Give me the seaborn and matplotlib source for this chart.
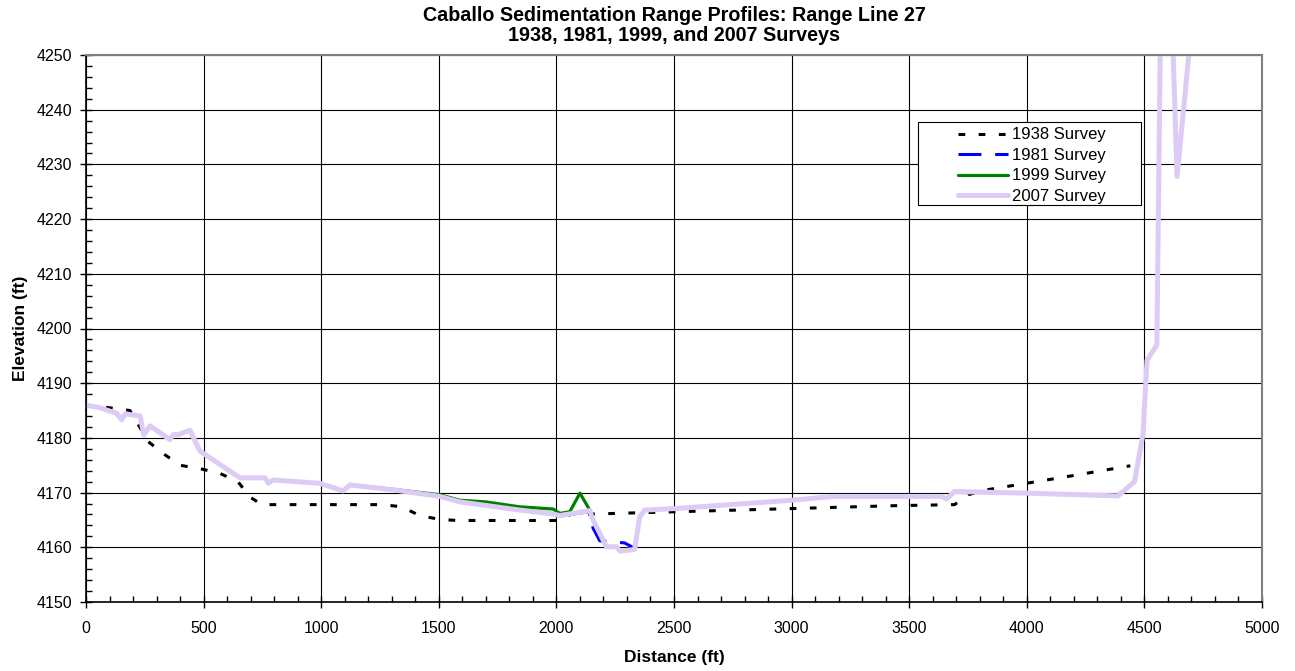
import matplotlib
matplotlib.use('Agg')
import matplotlib.pyplot as plt
from matplotlib.patches import Rectangle
from matplotlib.ticker import MultipleLocator
import seaborn as sns

# range line 27 survey profiles
dist_1938 = [0, 102, 187, 265, 336, 400, 492, 570, 646, 697, 747, 1262, 1342, 1419,
             1504, 1580, 2014, 2060, 2170, 2340, 2510, 2765, 3020, 3430, 3693, 3750,
             3828, 3998, 4168, 4440]
elev_1938 = [4186.0, 4185.5, 4185.0, 4179.3, 4176.9, 4175.0, 4174.3, 4173.5, 4172.0,
             4169.2, 4167.8, 4167.8, 4167.4, 4165.8, 4165.1, 4164.9, 4164.9, 4166.0,
             4166.1, 4166.3, 4166.5, 4166.8, 4167.1, 4167.6, 4167.8, 4169.6, 4170.5,
             4171.7, 4172.9, 4174.9]

dist_1981 = [0, 60, 130, 152, 166, 230, 246, 272, 357, 371, 392, 442, 484, 654, 761,
             775, 796, 994, 1093, 1122, 1306, 1504, 1590, 1844, 1986, 2014, 2142, 2156,
             2184, 2290, 2333, 2354, 2376, 2510, 3000, 3176, 3460, 3640, 3658, 3693,
             3998, 4387, 4458, 4494, 4511, 4553, 4575, 4600, 4639, 4700]
elev_1981 = [4186.0, 4185.5, 4184.5, 4183.3, 4184.4, 4184.0, 4180.5, 4182.2, 4179.7,
             4180.6, 4180.6, 4181.4, 4177.6, 4172.7, 4172.7, 4171.7, 4172.3, 4171.7,
             4170.3, 4171.4, 4170.5, 4169.3, 4168.3, 4166.8, 4166.1, 4165.8, 4166.5,
             4163.5, 4161.2, 4160.8, 4159.8, 4165.6, 4166.8, 4167.1, 4168.6, 4169.3,
             4169.3, 4169.3, 4168.8, 4170.2, 4169.9, 4169.4, 4172.0, 4180.7, 4194.2,
             4197.0, 4280.0, 4280.0, 4227.8, 4255.0]

dist_1999 = [0, 60, 130, 152, 166, 230, 246, 272, 357, 371, 392, 442, 484, 654, 761,
             775, 796, 994, 1093, 1122, 1306, 1504, 1590, 1700, 1844, 1986, 2014, 2057,
             2100, 2142, 2156, 2213, 2255, 2270, 2333, 2354, 2376, 2510, 3000, 3176,
             3460, 3640, 3658, 3693, 3998, 4387, 4458, 4494, 4511, 4553, 4575, 4600,
             4639, 4700]
elev_1999 = [4186.0, 4185.5, 4184.5, 4183.3, 4184.4, 4184.0, 4180.5, 4182.2, 4179.7,
             4180.6, 4180.6, 4181.4, 4177.6, 4172.7, 4172.7, 4171.7, 4172.3, 4171.7,
             4170.3, 4171.4, 4170.6, 4169.6, 4168.6, 4168.3, 4167.4, 4167.0, 4166.2,
             4166.5, 4169.9, 4166.8, 4165.0, 4160.1, 4160.1, 4159.3, 4159.6, 4165.6,
             4166.8, 4167.1, 4168.6, 4169.3, 4169.3, 4169.3, 4168.8, 4170.2, 4169.9,
             4169.4, 4172.0, 4180.7, 4194.2, 4197.0, 4280.0, 4280.0, 4227.8, 4255.0]

dist_2007 = [0, 60, 130, 152, 166, 230, 246, 272, 357, 371, 392, 442, 484, 654, 761,
             775, 796, 994, 1093, 1122, 1306, 1504, 1590, 1844, 1986, 2014, 2142, 2156,
             2213, 2255, 2270, 2333, 2354, 2376, 2510, 3000, 3176, 3460, 3640, 3658,
             3693, 3998, 4387, 4458, 4494, 4511, 4553, 4575, 4600, 4639, 4700]
elev_2007 = [4186.0, 4185.5, 4184.5, 4183.3, 4184.4, 4184.0, 4180.5, 4182.2, 4179.7,
             4180.6, 4180.6, 4181.4, 4177.6, 4172.7, 4172.7, 4171.7, 4172.3, 4171.7,
             4170.3, 4171.4, 4170.5, 4169.3, 4168.3, 4166.8, 4166.1, 4165.8, 4166.7,
             4165.0, 4160.1, 4160.1, 4159.3, 4159.6, 4165.6, 4166.8, 4167.1, 4168.6,
             4169.3, 4169.3, 4169.3, 4168.8, 4170.2, 4169.9, 4169.4, 4172.0, 4180.7,
             4194.2, 4197.0, 4280.0, 4280.0, 4227.8, 4255.0]

sns.set_style('white')
plt.rcParams['font.family'] = ['Liberation Sans', 'DejaVu Sans']
plt.rcParams['text.color'] = 'black'
plt.rcParams['axes.labelcolor'] = 'black'

fig = plt.figure(figsize=(12.95, 6.71), dpi=100)
ax = fig.add_axes([86 / 1295, 1 - 602 / 671, 1176 / 1295, 547 / 671])

sns.lineplot(x=dist_1938, y=elev_1938, ax=ax, sort=False, color='black', lw=2.2,
             linestyle=(0, (2.2, 4.4)), label='1938 Survey')
sns.lineplot(x=dist_1981, y=elev_1981, ax=ax, sort=False, color='#0000ff', lw=2.2,
             linestyle=(0, (7.5, 4.5)), label='1981 Survey')
sns.lineplot(x=dist_1999, y=elev_1999, ax=ax, sort=False, color='#008000', lw=2.3,
             label='1999 Survey')
sns.lineplot(x=dist_2007, y=elev_2007, ax=ax, sort=False, color='#dccbf5', lw=3.6,
             label='2007 Survey')

ax.set_xlim(0, 5000)
ax.set_ylim(4150, 4250)
ax.xaxis.set_major_locator(MultipleLocator(500))
ax.xaxis.set_minor_locator(MultipleLocator(100))
ax.yaxis.set_major_locator(MultipleLocator(10))
ax.yaxis.set_minor_locator(MultipleLocator(2))
ax.grid(True, which='major', color='black', lw=0.8)
ax.set_axisbelow(True)

ax.tick_params(which='major', direction='inout', length=8, width=1, colors='black',
               labelsize=11.5)
ax.tick_params(axis='x', which='major', pad=10)
ax.tick_params(axis='y', which='major', pad=6)
ax.tick_params(which='minor', direction='in', length=4, width=1, colors='black')
ax.tick_params(bottom=True, left=True, which='both')

for side in ['left', 'bottom']:
    ax.spines[side].set_color('black')
    ax.spines[side].set_linewidth(1.2)
for side in ['top', 'right']:
    ax.spines[side].set_color('#808080')
    ax.spines[side].set_linewidth(1.5)

ax.set_xlabel('Distance (ft)', fontsize=12.5, fontweight='bold', labelpad=10)
ax.set_ylabel('Elevation (ft)', fontsize=12.5, fontweight='bold', labelpad=6)
ax.set_title('Caballo Sedimentation Range Profiles: Range Line 27\n'
             '1938, 1981, 1999, and 2007 Surveys', fontsize=14.2, fontweight='bold',
             pad=10, linespacing=1.07)

# legend entries without frame, box drawn separately to match the wide excel frame
leg = ax.legend(loc='upper left', bbox_to_anchor=(0.732, 0.889), fontsize=12,
                handlelength=3.0, handletextpad=0.2, labelspacing=0.33,
                borderpad=0.2, frameon=False)
ax.add_patch(Rectangle((0.7075, 0.7258), 0.1896, 0.1517, transform=ax.transAxes,
                       facecolor='white', edgecolor='black', lw=0.8, zorder=4))
leg.set_zorder(5)

plt.savefig('out.png', dpi=100)
